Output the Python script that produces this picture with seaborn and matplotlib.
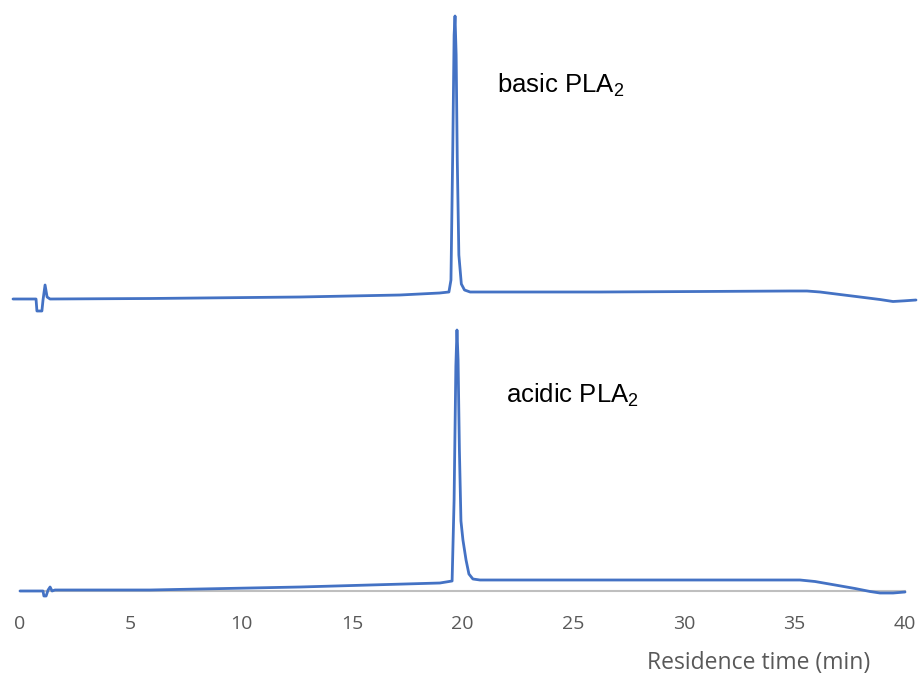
import matplotlib
matplotlib.use("Agg")
import matplotlib.pyplot as plt
import seaborn as sns
import pandas as pd

# ---- data (time in min, detector signal in arbitrary units) ----
basic_time = [0.0, 0.53, 1.02, 1.06, 1.28, 1.33, 1.42, 1.51, 1.64, 6.07, 12.71, 17.14,
              18.9, 19.31, 19.4, 19.48, 19.54, 19.58, 19.63, 19.68, 19.75, 19.86, 20.0,
              20.25, 26.0, 30.43, 34.42, 35.17, 35.75, 36.63, 37.52, 38.4, 38.98,
              39.5, 40.0]
basic_signal = [1, 1, 1, -11, -11, 0, 15, 3, 1, 1.5, 3, 5,
                7, 8, 20, 150, 265, 284, 245, 140, 45, 16, 10,
                8, 8, 8.5, 9, 9, 8, 5.5, 3, 0.5, -1.5,
                -0.8, 0]

acidic_time = [0.0, 0.9, 1.04, 1.08, 1.18, 1.27, 1.36, 1.45, 1.58, 5.88, 12.66, 18.98,
               19.53, 19.62, 19.7, 19.75, 19.8, 19.86, 19.93, 20.02, 20.16, 20.29,
               20.47, 20.79, 26.2, 34.35, 35.25, 35.93, 36.84, 37.74, 38.42, 38.87,
               39.46, 40.0]
acidic_signal = [0, 0, 0, -5, -5, 1, 4, 0, 1, 1, 4, 8,
                 10, 91, 225, 261, 231, 141, 70, 51, 31, 17,
                 12, 11, 11, 11, 11, 9.5, 6, 2.5, -0.5, -2,
                 -2, -1]

x_ticks = [0, 5, 10, 15, 20, 25, 30, 35, 40]
x_label = "Residence time (min)"
labels = ["basic PLA$\\mathregular{_2}$", "acidic PLA$\\mathregular{_2}$"]

sns.set_theme(style="white")
plt.rcParams["font.family"] = ["Liberation Sans", "DejaVu Sans"]
plt.rcParams["mathtext.fontset"] = "custom"
plt.rcParams["mathtext.rm"] = "Liberation Sans"

W, H = 920, 679
fig = plt.figure(figsize=(W / 100, H / 100), dpi=100)

def fx(px):
    return px / W

def fy(py):
    return 1 - py / H

line_color = "#4472C4"
lw = 2.0

# top chromatogram (basic)
ax_top = fig.add_axes([fx(13), fy(300), fx(916) - fx(13), fy(10) - fy(300)])
df_b = pd.DataFrame({"t": basic_time, "s": basic_signal})
sns.lineplot(data=df_b, x="t", y="s", ax=ax_top, color=line_color, linewidth=lw,
             estimator=None, sort=False)
ax_top.set_xlim(0, 40)
ax_top.set_ylim(0, 290)
ax_top.axis("off")
for ln in ax_top.lines:
    ln.set_clip_on(False)
    ln.set_solid_joinstyle("round")

# bottom chromatogram (acidic)
ax_bot = fig.add_axes([fx(20), fy(591), fx(905) - fx(20), fy(320) - fy(591)])
df_a = pd.DataFrame({"t": acidic_time, "s": acidic_signal})
sns.lineplot(data=df_a, x="t", y="s", ax=ax_bot, color=line_color, linewidth=lw,
             estimator=None, sort=False)
ax_bot.set_xlim(0, 40)
ax_bot.set_ylim(0, 271)
for ln in ax_bot.lines:
    ln.set_clip_on(False)
    ln.set_solid_joinstyle("round")
for side in ["top", "right", "left"]:
    ax_bot.spines[side].set_visible(False)
ax_bot.spines["bottom"].set_color("#BFBFBF")
ax_bot.spines["bottom"].set_linewidth(1.5)
ax_bot.spines["bottom"].set_zorder(0)
ax_bot.set_yticks([])
ax_bot.set_xticks(x_ticks)
ax_bot.set_xticklabels([str(v) for v in x_ticks], fontfamily="Open Sans")
ax_bot.tick_params(axis="x", length=0, pad=17, labelsize=14, labelcolor="#595959")
ax_bot.set_xlabel("")
ax_bot.set_ylabel("")

fig.text(fx(870), fy(663), x_label, ha="right", va="center", fontsize=16.5,
         color="#595959", fontfamily="Open Sans")

fig.text(fx(497), fy(85), labels[0], ha="left", va="center", fontsize=18.5, color="black")
fig.text(fx(506), fy(395), labels[1], ha="left", va="center", fontsize=18.5, color="black")

fig.savefig("out.png", dpi=100)
